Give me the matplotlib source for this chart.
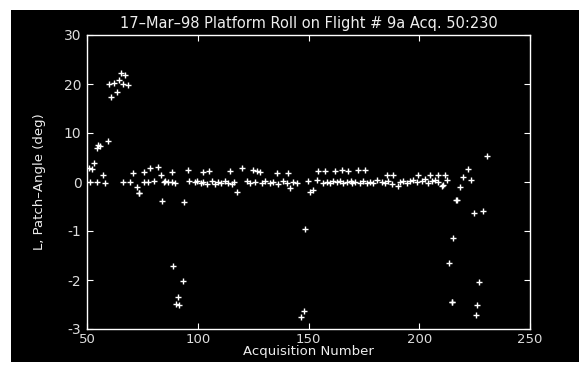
import matplotlib
matplotlib.use("Agg")
import matplotlib.pyplot as plt
from matplotlib.patches import Rectangle

title = "17\u2013Mar\u201398 Platform Roll on Flight # 9a Acq. 50:230"
xlabel = "Acquisition Number"
ylabel = "L, Patch\u2013Angle (deg)"
xticks = [50, 100, 150, 200, 250]
xticklabels = ["50", "100", "150", "200", "250"]
yticks = [3, 2, 1, 0, -1, -2, -3]
yticklabels = ["30", "20", "10", "0", "-1", "-2", "-3"]

# early segment (acq ~50-85)
acq_a = [50.9, 51.2, 52.1, 53.3, 54.4, 54.4, 54.8, 55.9, 57.4, 58.1, 59.3,
         59.9, 60.8, 62.3, 63.4, 64.3, 65.2, 66.4, 66.4, 67.2, 68.3, 69.4,
         70.9, 72.4, 73.5, 73.6, 75.9, 75.9, 77.4, 78.4, 80.4, 81.9, 83.4,
         84.0, 84.8]
roll_a = [0.28, 0.0, 0.27, 0.38, 0.69, 0.0, 0.76, 0.73, 0.14, -0.02, 0.83,
          2.0, 1.73, 2.03, 1.84, 2.09, 2.22, 1.99, 0.0, 2.19, 1.97, 0.01,
          0.18, -0.11, -0.22, -0.23, 0.2, 0.01, 0.01, 0.28, 0.03, 0.31, 0.14,
          -0.39, 0.0]

# middle segment (acq ~85-212)
acq_b = [85.2, 86.7, 88.2, 88.2, 89.0, 89.7, 90.2, 91.1, 91.7, 93.2, 93.8,
         95.7, 96.2, 98.8, 99.5, 101.3, 102.2, 102.5, 104.0, 105.2, 106.3,
         107.8, 109.3, 110.4, 112.3, 113.8, 114.5, 115.3, 116.4, 117.6, 119.8,
         122.4, 123.6, 125.1, 125.8, 126.6, 128.1, 128.9, 130.4, 132.6, 134.1,
         135.8, 136.4, 138.6, 140.2, 140.9, 141.6, 143.1, 144.7, 146.6, 148.1,
         148.4, 149.9, 150.7, 152.2, 153.7, 154.4, 156.7, 157.4, 158.2, 159.7,
         161.2, 162.0, 162.7, 164.2, 165.0, 165.7, 167.2, 168.0, 169.2, 169.5,
         171.0, 172.5, 173.3, 174.7, 175.5, 176.3, 177.8, 179.3, 180.8, 183.0,
         184.5, 185.3, 186.0, 187.6, 188.3, 190.5, 191.3, 192.8, 194.3, 195.8,
         197.3, 198.8, 199.6, 201.1, 202.6, 204.1, 204.9, 205.6, 207.1, 208.6,
         208.6, 210.1, 210.6, 211.6, 212.4]
roll_b = [0.02, -0.01, 0.2, 0.01, -1.71, -0.02, -2.48, -2.35, -2.52, -2.02, -0.41,
          0.24, 0.03, -0.01, 0.02, -0.03, 0.2, 0.0, -0.04, 0.23, 0.02,
          -0.05, 0.01, -0.03, 0.03, -0.02, 0.23, -0.04, 0.01, -0.2, 0.29,
          0.02, -0.02, 0.24, 0.01, 0.23, 0.21, -0.02, 0.03, -0.03, 0.01,
          0.18, -0.04, 0.02, -0.02, 0.18, -0.13, 0.01, -0.03, -2.75, -2.63,
          -0.95, 0.02, -0.2, -0.17, 0.05, 0.23, -0.03, 0.22, 0.01, -0.02,
          0.03, 0.23, -0.01, 0.02, 0.24, -0.03, 0.01, 0.22, 0.03, -0.02,
          0.01, 0.25, -0.02, 0.02, 0.25, -0.03, 0.01, -0.02, 0.04, 0.0,
          -0.03, 0.14, 0.02, -0.04, 0.14, -0.09, 0.01, 0.03, -0.02, 0.02,
          0.05, -0.01, 0.14, 0.02, 0.06, -0.02, 0.14, 0.03, 0.05, -0.01,
          0.14, -0.08, -0.07, 0.14, 0.05]

# final segment (acq ~213-231)
acq_c = [213.6, 214.6, 214.7, 215.4, 216.6, 216.9, 218.4, 219.9, 222.1,
         223.2, 224.7, 225.6, 226.2, 227.1, 228.9, 230.4]
roll_c = [-1.66, -2.44, -2.44, -1.15, -0.37, -0.36, -0.11, 0.1, 0.27,
          0.05, -0.64, -2.72, -2.51, -2.05, -0.6, 0.54]

acq = acq_a + acq_b + acq_c
roll = roll_a + roll_b + roll_c

fig = plt.figure(figsize=(5.79, 3.68), dpi=100, facecolor="white")
bg = Rectangle((11 / 579, 6 / 368), 568 / 579, 352 / 368,
               transform=fig.transFigure, facecolor="black",
               edgecolor="none", zorder=-10)
fig.add_artist(bg)

ax = fig.add_axes([87 / 579, 39 / 368, 443 / 579, 294 / 368])
ax.set_zorder(1)
ax.set_facecolor("black")
ax.plot(acq, roll, linestyle="none", marker="+", color="white",
        markersize=4.5, markeredgewidth=1.0)

ax.set_xlim(50, 250)
ax.set_ylim(-3, 3)
ax.set_xticks(xticks)
ax.set_xticklabels(xticklabels)
ax.set_yticks(yticks)
ax.set_yticklabels(yticklabels)
for s in ax.spines.values():
    s.set_color("white")
    s.set_linewidth(1.0)
ax.tick_params(colors="white", direction="in", length=4, labelsize=10,
               top=True, right=True)
ax.tick_params(axis="x", pad=3, labelsize=9.5)
ax.tick_params(axis="y", pad=4)
for lab in ax.get_xticklabels() + ax.get_yticklabels():
    lab.set_color("#dddddd")
ax.set_title(title, color="#eeeeee", fontsize=10.5, pad=5)
ax.set_xlabel(xlabel, color="#eeeeee", fontsize=9.5, labelpad=-1)
ax.set_ylabel(ylabel, color="#eeeeee", fontsize=9.5, labelpad=13)

fig.savefig("out.png", dpi=100, facecolor="white")
